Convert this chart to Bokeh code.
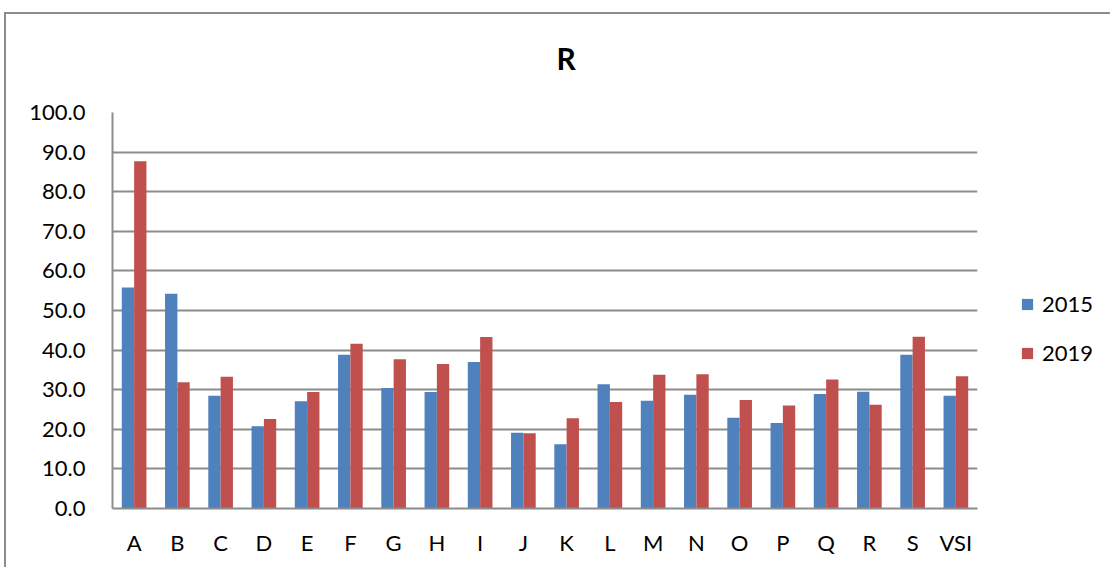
from bokeh.plotting import figure
from bokeh.models import (ColumnDataSource, FactorRange, Range1d, FixedTicker,
                          NumeralTickFormatter, Legend, LegendItem)
from bokeh.transform import dodge
from bokeh.embed import file_html
from bokeh.resources import INLINE

categories = ["A", "B", "C", "D", "E", "F", "G", "H", "I", "J",
              "K", "L", "M", "N", "O", "P", "Q", "R", "S", "VSI"]
values_2015 = [55.8, 54.2, 28.5, 20.8, 27.1, 38.8, 30.4, 29.4, 37.0, 19.1,
               16.2, 31.4, 27.2, 28.7, 22.9, 21.6, 28.9, 29.5, 38.8, 28.5]
values_2019 = [87.7, 31.9, 33.3, 22.6, 29.4, 41.6, 37.7, 36.5, 43.3, 19.0,
               22.8, 26.9, 33.8, 33.9, 27.4, 26.0, 32.6, 26.2, 43.4, 33.4]
y_ticks = [0, 10, 20, 30, 40, 50, 60, 70, 80, 90, 100]
title_text = "R"
series_names = ["2015", "2019"]

FONT = "Lato"
GRID = "#8c8c8c"

src = ColumnDataSource(dict(cat=categories, v2015=values_2015, v2019=values_2019))

p = figure(frame_width=865, frame_height=396, x_range=FactorRange(factors=categories),
           y_range=Range1d(0, 100), output_backend="svg", toolbar_location=None,
           min_border_left=112, min_border_right=133, min_border_top=112,
           min_border_bottom=59)
p.outline_line_color = None
p.background_fill_color = "white"
p.border_fill_color = "white"

w = 0.285
r1 = p.vbar(x=dodge("cat", -w / 2, range=p.x_range), top="v2015", width=w,
            source=src, fill_color="#4F81BD", line_color=None)
r2 = p.vbar(x=dodge("cat", w / 2, range=p.x_range), top="v2019", width=w,
            source=src, fill_color="#C0504D", line_color=None)

p.xgrid.grid_line_color = None
p.ygrid.ticker = FixedTicker(ticks=y_ticks)
p.ygrid.grid_line_color = GRID
p.ygrid.grid_line_width = 2

p.yaxis.ticker = FixedTicker(ticks=y_ticks)
p.yaxis.formatter = NumeralTickFormatter(format="0.0")
for ax in (p.xaxis[0], p.yaxis[0]):
    ax.axis_line_color = GRID
    ax.axis_line_width = 2
    ax.major_tick_line_color = None
    ax.minor_tick_line_color = None
    ax.major_label_text_font = FONT
    ax.major_label_text_font_size = "22px"
    ax.major_label_text_color = "black"
p.yaxis.major_label_standoff = 21
p.xaxis.major_label_standoff = 14

p.title.text = title_text
p.title.align = "left"
p.title.offset = 444
p.title.vertical_align = "middle"
p.title.text_font = FONT
p.title.text_font_size = "30px"
p.title.text_font_style = "bold"
p.title.text_color = "black"
p.title.standoff = 72

legend = Legend(items=[LegendItem(label=series_names[0], renderers=[r1]),
                       LegendItem(label=series_names[1], renderers=[r2])],
                location=(43, 142), orientation="vertical")
legend.border_line_color = None
legend.background_fill_alpha = 0
legend.padding = 0
legend.margin = 0
legend.glyph_width = 14
legend.glyph_height = 14
legend.label_standoff = 8
legend.spacing = 22
legend.label_text_font = FONT
legend.label_text_font_size = "22px"
legend.label_text_color = "black"
p.add_layout(legend, "right")

try:
    p.stylesheets = [""":host::after { content: ""; position: absolute; left: 4px; top: 12px;
        right: 0px; bottom: 0px; border-left: 2px solid #8c8c8c; border-top: 2px solid #8c8c8c;
        pointer-events: none; z-index: 10; }"""]
except Exception:
    pass

open("out.html", "w").write(file_html(p, INLINE))
